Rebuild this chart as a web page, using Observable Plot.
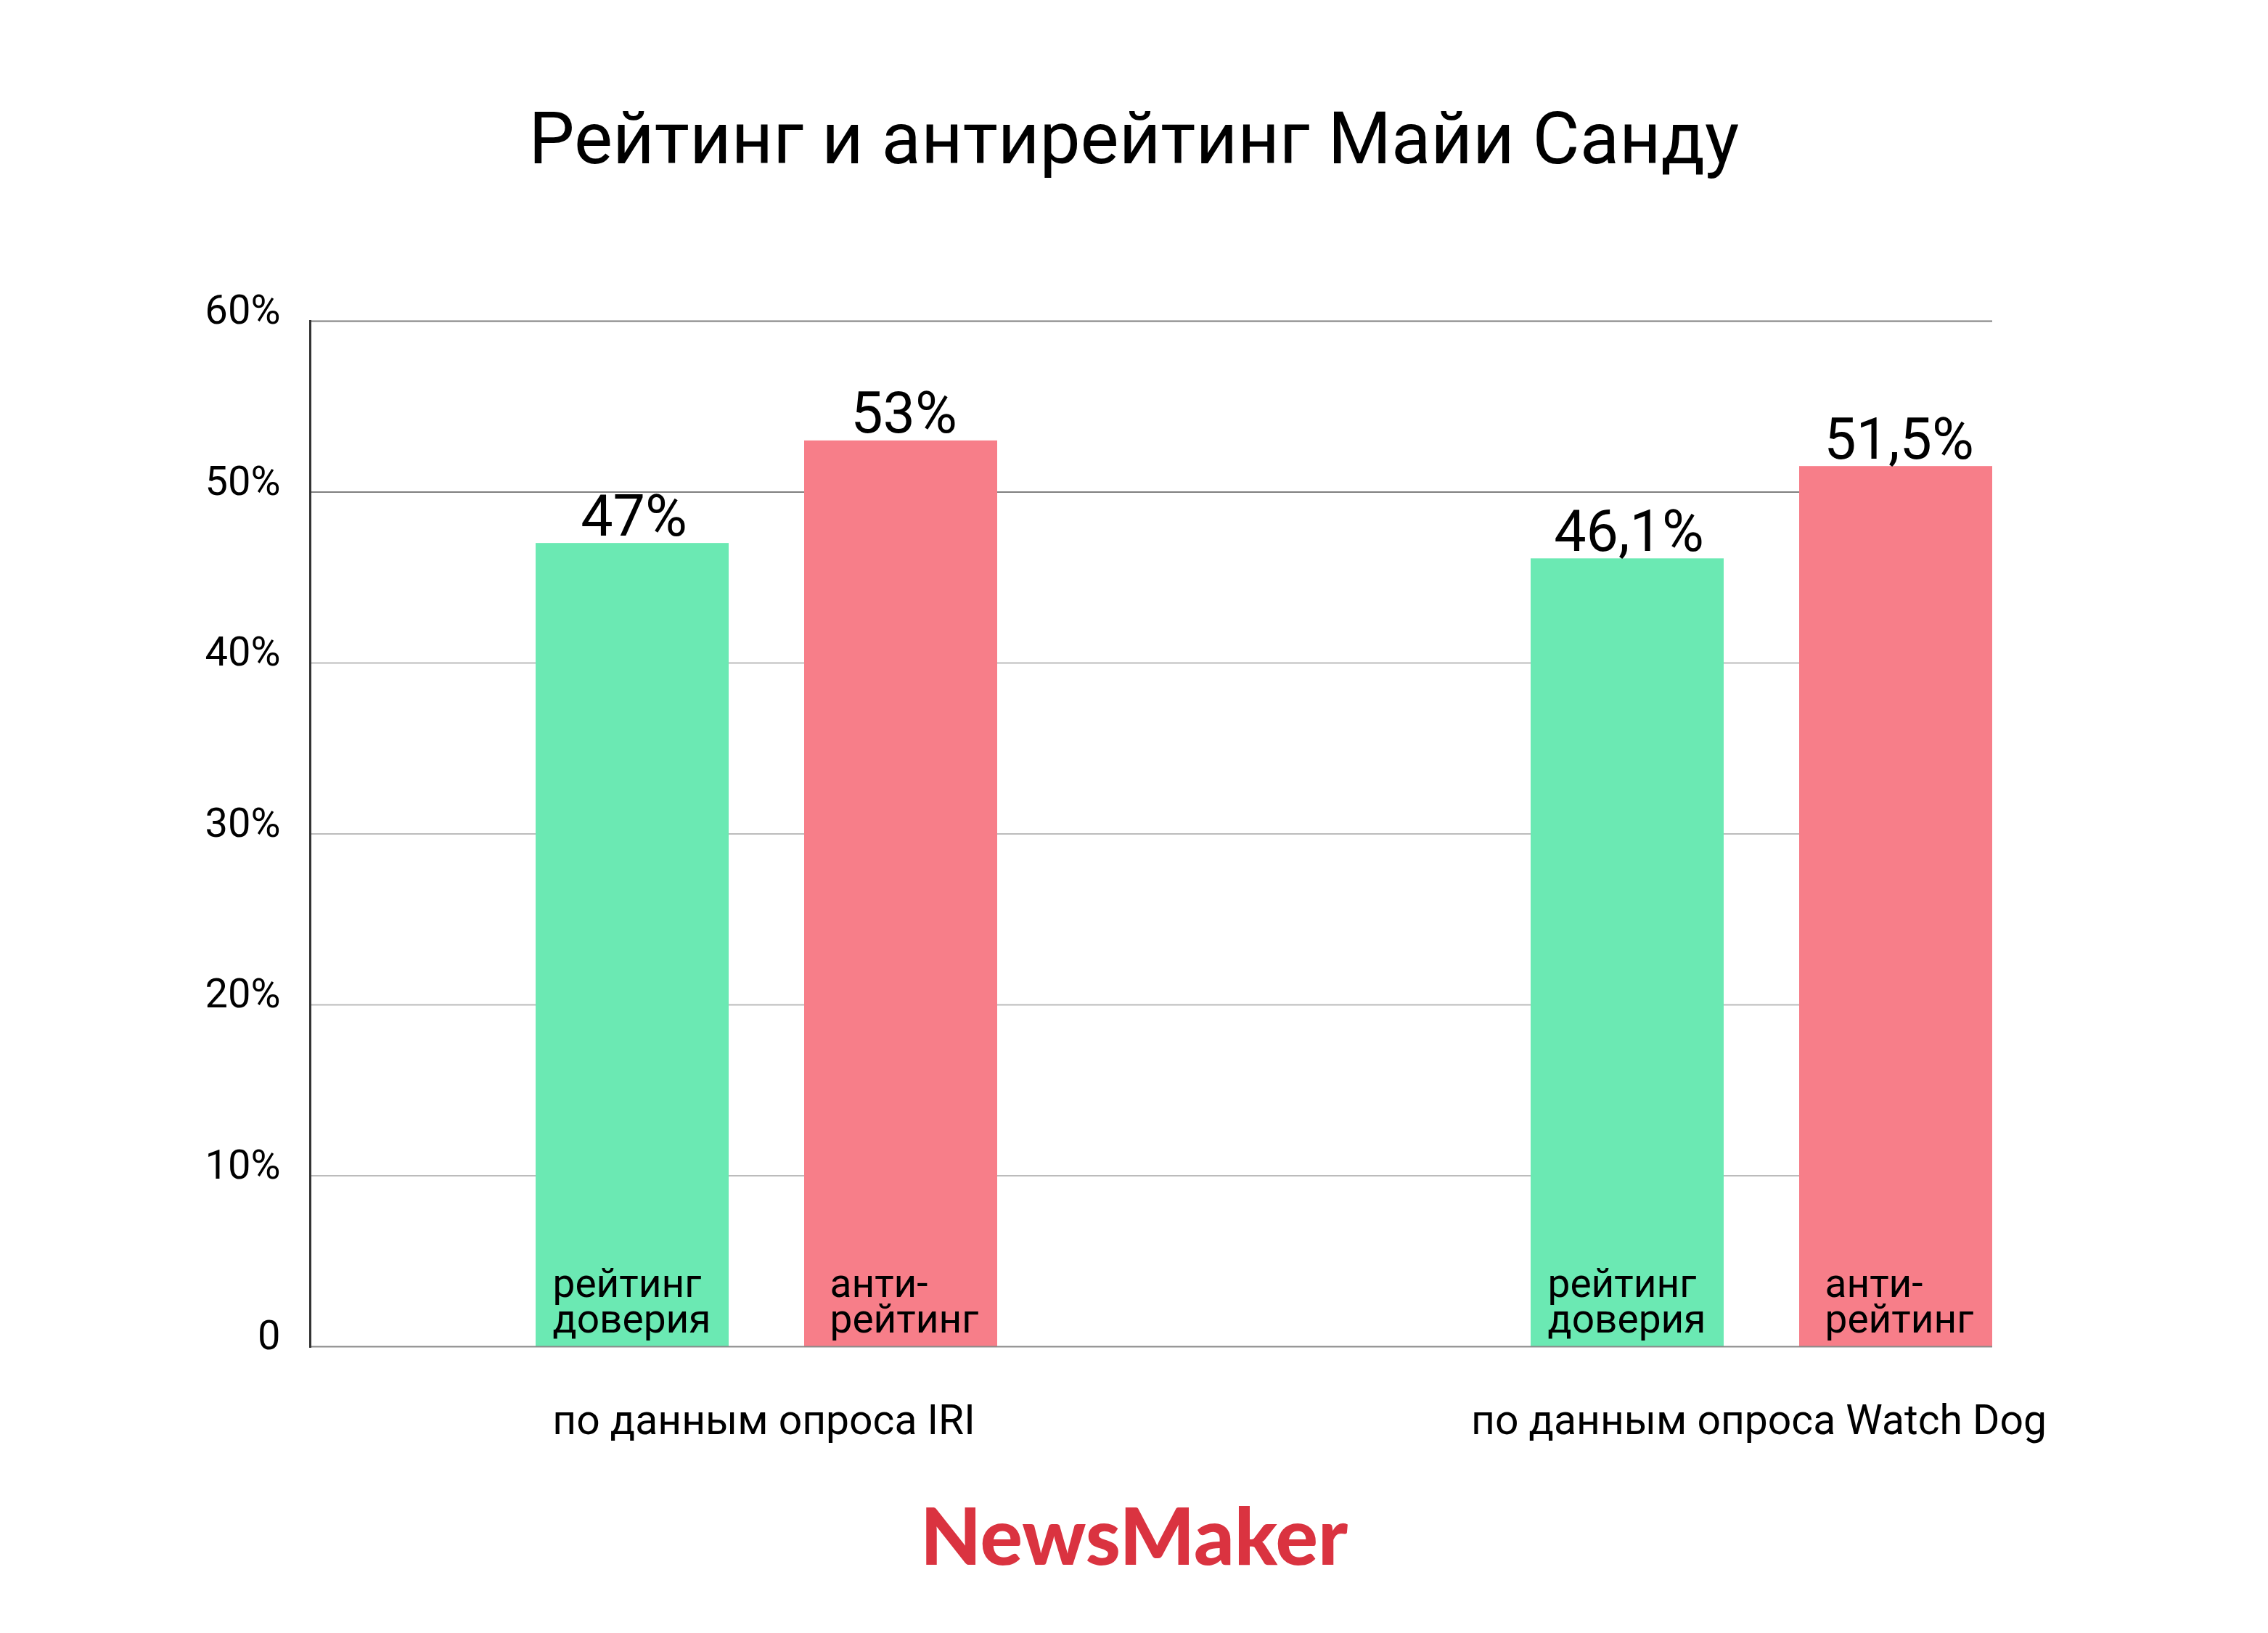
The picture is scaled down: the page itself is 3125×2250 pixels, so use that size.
<!DOCTYPE html>
<html>
<head>
<meta charset="utf-8">
<script src="https://cdn.jsdelivr.net/npm/d3@7"></script>
<script src="https://cdn.jsdelivr.net/npm/@observablehq/plot@0.6"></script>
<style>
  html, body { margin: 0; padding: 0; background: #fff; }
  #wrap { width: 3125px; }
  #title { height: 300px; box-sizing: border-box; padding-top: 141px;
    font: 400 100px Roboto, sans-serif; line-height: 100px; text-align: center; color: #000; }
  #logo { height: 250px; box-sizing: border-box; padding-top: 60px;
    font: 900 109px Lato, sans-serif; line-height: 108px; text-align: center; color: #DA3340; letter-spacing: 0px; }
  svg { display: block; }
</style>
</head>
<body>
<div id="wrap">
  <div id="title">Рейтинг и антирейтинг Майи Санду</div>
  <div id="chart"></div>
  <div id="logo">NewsMaker</div>
</div>
<script>
const surveys = ["по данным опроса IRI", "по данным опроса Watch Dog"];
const trustValues = [47, 46.1];
const antiValues = [53, 51.5];
const trustValueLabels = ["47%", "46,1%"];
const antiValueLabels = ["53%", "51,5%"];
const trustBarLabel = "рейтинг\nдоверия";
const antiBarLabel = "анти-\nрейтинг";
const yTicks = [0, 10, 20, 30, 40, 50, 60];
const yTickLabels = ["0", "10%", "20%", "30%", "40%", "50%", "60%"];

const green = "#6BE9B3";
const red = "#F77E89";

const trust = surveys.map((s, i) => ({survey: s, value: trustValues[i], label: trustValueLabels[i], inner: trustBarLabel}));
const anti = surveys.map((s, i) => ({survey: s, value: antiValues[i], label: antiValueLabels[i], inner: antiBarLabel}));

const chart = Plot.plot({
  width: 3125,
  height: 1700,
  marginLeft: 427,
  marginRight: 380,
  marginTop: 142,
  marginBottom: 145,
  style: {fontFamily: "Roboto, sans-serif", fontSize: "56px", color: "#000", background: "#fff"},
  x: {domain: surveys, paddingInner: 0.536, paddingOuter: 0.1128, align: 1, label: null},
  y: {domain: [0, 60], label: null},
  marks: [
    Plot.ruleY(yTicks.filter(d => d > 0), {stroke: d => d >= 50 ? "#7f7f7f" : "#bcbcbc", strokeWidth: 2}),
    Plot.barY(trust, {x: "survey", y: "value", fill: green, insetRight: 370}),
    Plot.barY(anti, {x: "survey", y: "value", fill: red, insetLeft: 370}),
    Plot.ruleY([0], {stroke: "#8a8a8a", strokeWidth: 2}),
    Plot.frame({anchor: "left", stroke: "#333", strokeWidth: 3}),
    Plot.text(trust, {x: "survey", y: "value", text: "label", dx: -183, dy: -11, lineAnchor: "bottom", fontSize: 79, fill: "#000"}),
    Plot.text(anti, {x: "survey", y: "value", text: "label", dx: 189, dy: -11, lineAnchor: "bottom", fontSize: 79, fill: "#000"}),
    Plot.text(trust, {x: "survey", y: 0, text: "inner", dx: -295, dy: -20, textAnchor: "start", lineAnchor: "bottom", lineHeight: 0.88, fontSize: 55, fill: "#000"}),
    Plot.text(anti, {x: "survey", y: 0, text: "inner", dx: 87, dy: -20, textAnchor: "start", lineAnchor: "bottom", lineHeight: 0.88, fontSize: 55, fill: "#000"}),
    Plot.axisY({ticks: yTicks, tickFormat: (d) => yTickLabels[yTicks.indexOf(d)], tickSize: 0, tickPadding: 41, dy: -14, fontSize: 56, label: null}),
    Plot.axisX({tickSize: 0, tickPadding: 80, fontSize: 57, dx: -4, label: null})
  ]
});
document.getElementById("chart").appendChild(chart);
</script>
</body>
</html>
